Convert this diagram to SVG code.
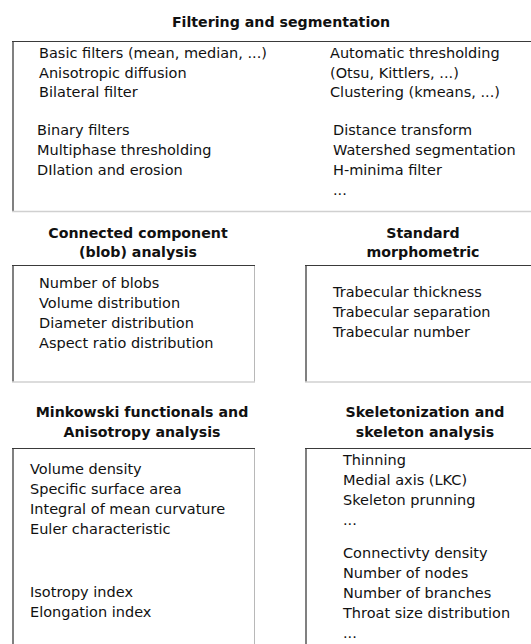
<svg xmlns="http://www.w3.org/2000/svg" width="531" height="644" viewBox="0 0 531 644">
<style>
text{font-family:"DejaVu Sans",Verdana,sans-serif;font-size:14.5px;fill:#111}
.t{font-weight:bold;font-size:14.2px;text-anchor:middle}
.bt{stroke:#3a3a3a;stroke-width:1.2;fill:none}
.bl{stroke:#808080;stroke-width:2;fill:none}
.br{stroke:#b8b8b8;stroke-width:1;fill:none}
.bb{stroke:#d0d0d0;stroke-width:1.5;fill:none}
</style>
<rect width="531" height="644" fill="#fff"/>
<g id="filtering">
<text class="t" x="281" y="27">Filtering and segmentation</text>
<path class="bl" d="M13 41V211"/>
<path class="bb" d="M12 211.5H531"/>
<path class="bt" d="M12 41.5H531"/>
<text x="39" y="58">Basic filters (mean, median, ...)</text>
<text x="39" y="77.5">Anisotropic diffusion</text>
<text x="39" y="97">Bilateral filter</text>
<text x="37" y="135">Binary filters</text>
<text x="37" y="155">Multiphase thresholding</text>
<text x="37" y="175">DIlation and erosion</text>
<text x="330" y="58">Automatic thresholding</text>
<text x="330" y="77.5">(Otsu, Kittlers, ...)</text>
<text x="330" y="97">Clustering (kmeans, ...)</text>
<text x="333" y="135">Distance transform</text>
<text x="333" y="155">Watershed segmentation</text>
<text x="333" y="175">H-minima filter</text>
<text x="333" y="195">...</text>
</g>
<g id="blob">
<text class="t" x="138" y="238">Connected component</text>
<text class="t" x="138" y="257">(blob) analysis</text>
<path class="bl" d="M13 265V382"/>
<path class="br" d="M254.5 265V382"/>
<path class="bb" d="M12 382H255"/>
<path class="bt" d="M12 265.5H255"/>
<text x="39" y="288">Number of blobs</text>
<text x="39" y="308">Volume distribution</text>
<text x="39" y="328">Diameter distribution</text>
<text x="39" y="348">Aspect ratio distribution</text>
</g>
<g id="morpho">
<text class="t" x="423" y="238">Standard</text>
<text class="t" x="423" y="257">morphometric</text>
<path class="bl" d="M306 265V382"/>
<path class="bb" d="M305 382H531"/>
<path class="bt" d="M305 265.5H531"/>
<text x="333" y="297">Trabecular thickness</text>
<text x="333" y="317">Trabecular separation</text>
<text x="333" y="337">Trabecular number</text>
</g>
<g id="minkowski">
<text class="t" x="142" y="417">Minkowski functionals and</text>
<text class="t" x="142" y="437">Anisotropy analysis</text>
<path class="bl" d="M13 448V644"/>
<path class="br" d="M254.5 448V644"/>
<path class="bt" d="M12 448.5H255"/>
<text x="30" y="474">Volume density</text>
<text x="30" y="494">Specific surface area</text>
<text x="30" y="514">Integral of mean curvature</text>
<text x="30" y="534">Euler characteristic</text>
<text x="30" y="597">Isotropy index</text>
<text x="30" y="617">Elongation index</text>
</g>
<g id="skeleton">
<text class="t" x="425" y="417">Skeletonization and</text>
<text class="t" x="425" y="437">skeleton analysis</text>
<path class="bl" d="M306 448V644"/>
<path class="bt" d="M305 448.5H531"/>
<text x="343" y="465">Thinning</text>
<text x="343" y="485">Medial axis (LKC)</text>
<text x="343" y="505">Skeleton prunning</text>
<text x="343" y="525">...</text>
<text x="343" y="558">Connectivty density</text>
<text x="343" y="578">Number of nodes</text>
<text x="343" y="598">Number of branches</text>
<text x="343" y="618">Throat size distribution</text>
<text x="343" y="638">...</text>
</g>
<g id="connectors"/>
</svg>
